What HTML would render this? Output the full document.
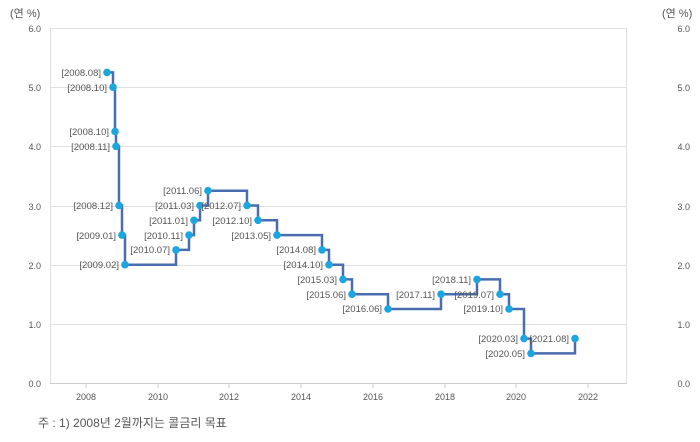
<!DOCTYPE html>
<html><head><meta charset="utf-8"><style>
html,body{margin:0;padding:0;background:#fff;}
svg text{font-family:"Liberation Sans","Noto Sans CJK KR",sans-serif;fill:#555;}
</style></head><body>
<svg width="700" height="437" xmlns="http://www.w3.org/2000/svg">
<g stroke="#e0e0e0" stroke-width="1">
<line x1="50" y1="28.5" x2="627" y2="28.5"/>
<line x1="50" y1="87.5" x2="627" y2="87.5"/>
<line x1="50" y1="146.5" x2="627" y2="146.5"/>
<line x1="50" y1="206.5" x2="627" y2="206.5"/>
<line x1="50" y1="265.5" x2="627" y2="265.5"/>
<line x1="50" y1="324.5" x2="627" y2="324.5"/>
<line x1="50.5" y1="28" x2="50.5" y2="383"/>
<line x1="626.5" y1="28" x2="626.5" y2="383"/>
</g>
<line x1="50" y1="383.5" x2="627" y2="383.5" stroke="#ccc"/>
<g stroke="#ccc">
<line x1="86" y1="383" x2="86" y2="388"/><line x1="158" y1="383" x2="158" y2="388"/>
<line x1="229" y1="383" x2="229" y2="388"/><line x1="301" y1="383" x2="301" y2="388"/>
<line x1="373" y1="383" x2="373" y2="388"/><line x1="445" y1="383" x2="445" y2="388"/>
<line x1="516" y1="383" x2="516" y2="388"/><line x1="588" y1="383" x2="588" y2="388"/>
</g>
<g font-size="9" text-anchor="end">
<text x="41" y="32">6.0</text><text x="41" y="91">5.0</text><text x="41" y="150">4.0</text>
<text x="41" y="210">3.0</text><text x="41" y="269">2.0</text><text x="41" y="328">1.0</text><text x="41" y="387">0.0</text>
</g>
<g font-size="9" text-anchor="end">
<text x="690" y="32">6.0</text><text x="690" y="91">5.0</text><text x="690" y="150">4.0</text>
<text x="690" y="210">3.0</text><text x="690" y="269">2.0</text><text x="690" y="328">1.0</text><text x="690" y="387">0.0</text>
</g>
<text x="10" y="17" font-size="11">(연 %)</text>
<text x="662" y="17" font-size="11">(연 %)</text>
<g font-size="9" text-anchor="middle">
<text x="86" y="400">2008</text><text x="158" y="400">2010</text><text x="229" y="400">2012</text>
<text x="301" y="400">2014</text><text x="373" y="400">2016</text><text x="445" y="400">2018</text>
<text x="516" y="400">2020</text><text x="588" y="400">2022</text>
</g>
<text x="38" y="427" font-size="12">주 : 1) 2008년 2월까지는 콜금리 목표</text>
<polyline fill="none" stroke="#4a6db0" stroke-width="2.5" points="107,72.4 113,72.4 113,87.2 115,87.2 115,131.5 116,131.5 116,146.3 119,146.3 119,205.5 122,205.5 122,235.1 125,235.1 125,264.7 176,264.7 176,249.9 189,249.9 189,235.1 194,235.1 194,220.3 200,220.3 200,205.5 208,205.5 208,190.7 247,190.7 247,205.5 258,205.5 258,220.3 277,220.3 277,235.1 322,235.1 322,249.9 329,249.9 329,264.7 343,264.7 343,279.4 352,279.4 352,294.2 388,294.2 388,309 441,309 441,294.2 477,294.2 477,279.4 500,279.4 500,294.2 509,294.2 509,309 524,309 524,338.6 531,338.6 531,353.4 575,353.4 575,338.6"/>
<g fill="#1ba6e0">
<circle cx="107" cy="72.4" r="3.8"/><circle cx="113" cy="87.2" r="3.8"/><circle cx="115" cy="131.5" r="3.8"/>
<circle cx="116" cy="146.3" r="3.8"/><circle cx="119" cy="205.5" r="3.8"/><circle cx="122" cy="235.1" r="3.8"/>
<circle cx="125" cy="264.7" r="3.8"/><circle cx="176" cy="249.9" r="3.8"/><circle cx="189" cy="235.1" r="3.8"/>
<circle cx="194" cy="220.3" r="3.8"/><circle cx="200" cy="205.5" r="3.8"/><circle cx="208" cy="190.7" r="3.8"/>
<circle cx="247" cy="205.5" r="3.8"/><circle cx="258" cy="220.3" r="3.8"/><circle cx="277" cy="235.1" r="3.8"/>
<circle cx="322" cy="249.9" r="3.8"/><circle cx="329" cy="264.7" r="3.8"/><circle cx="343" cy="279.4" r="3.8"/>
<circle cx="352" cy="294.2" r="3.8"/><circle cx="388" cy="309" r="3.8"/><circle cx="441" cy="294.2" r="3.8"/>
<circle cx="477" cy="279.4" r="3.8"/><circle cx="500" cy="294.2" r="3.8"/><circle cx="509" cy="309" r="3.8"/>
<circle cx="524" cy="338.6" r="3.8"/><circle cx="531" cy="353.4" r="3.8"/><circle cx="575" cy="338.6" r="3.8"/>
</g>
<g font-size="9.5" text-anchor="end">
<text x="101" y="76">[2008.08]</text><text x="107" y="91">[2008.10]</text><text x="109" y="135">[2008.10]</text>
<text x="110" y="150">[2008.11]</text><text x="113" y="209">[2008.12]</text><text x="116" y="239">[2009.01]</text>
<text x="119" y="268">[2009.02]</text><text x="170" y="253">[2010.07]</text><text x="183" y="239">[2010.11]</text>
<text x="188" y="224">[2011.01]</text><text x="194" y="209">[2011.03]</text><text x="202" y="194">[2011.06]</text>
<text x="241" y="209">[2012.07]</text><text x="252" y="224">[2012.10]</text><text x="271" y="239">[2013.05]</text>
<text x="316" y="253">[2014.08]</text><text x="323" y="268">[2014.10]</text><text x="337" y="283">[2015.03]</text>
<text x="346" y="298">[2015.06]</text><text x="382" y="312">[2016.06]</text><text x="435" y="298">[2017.11]</text>
<text x="471" y="283">[2018.11]</text><text x="494" y="298">[2019.07]</text><text x="503" y="312">[2019.10]</text>
<text x="518" y="342">[2020.03]</text><text x="525" y="357">[2020.05]</text><text x="569" y="342">[2021.08]</text>
</g>
</svg>
</body></html>
